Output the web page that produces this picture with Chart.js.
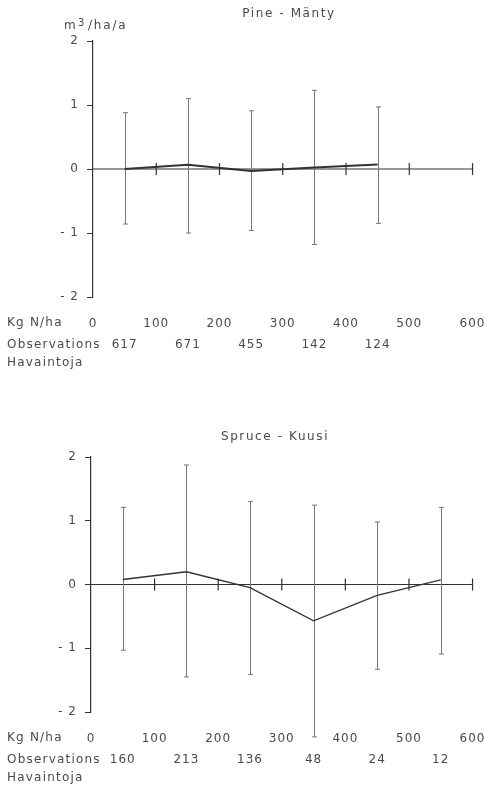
<!DOCTYPE html>
<html>
<head>
<meta charset="utf-8">
<script src="https://cdn.jsdelivr.net/npm/chart.js@4"></script>
<style>
  body { margin: 0; background: #fff; }
  #wrap { position: relative; width: 484px; height: 789px; }
  canvas { position: absolute; left: 0; }
</style>
</head>
<body>
<div id="wrap">
  <canvas id="pine" width="484" height="400" style="top:0"></canvas>
  <canvas id="spruce" width="484" height="389" style="top:400px"></canvas>
</div>
<script>
// x axis: kg N/ha
const xTicks = [0, 100, 200, 300, 400, 500, 600];
const zeroTicks = [100, 200, 300, 400, 500, 600];

// Pine - Mänty
const pineX = [50, 150, 250, 350, 450];
const pineMean = [0, 0.065, -0.03, 0.025, 0.07];
const pineUpper = [0.88, 1.10, 0.91, 1.23, 0.97];
const pineLower = [-0.86, -1.00, -0.96, -1.18, -0.85];
const pineObs = ['617', '671', '455', '142', '124'];

// Spruce - Kuusi
const spruceX = [50, 150, 250, 350, 450, 550];
const spruceMean = [0.078, 0.20, -0.05, -0.57, -0.17, 0.073];
const spruceUpper = [1.21, 1.875, 1.30, 1.245, 0.98, 1.21];
const spruceLower = [-1.03, -1.45, -1.41, -2.39, -1.33, -1.09];
const spruceObs = ['160', '213', '136', '48', '24', '12'];

const FONT = '"DejaVu Sans", sans-serif';
const TEXT = '#4a4a4a';
const INK = '#333';

function spacing(ctx, px) {
  if ('letterSpacing' in ctx) ctx.letterSpacing = px + 'px';
}

function panelPlugin(p) {
  return {
    id: 'panel',
    beforeDraw(chart) {
      // the figure's lettering is widely tracked; also applies to the tick labels
      spacing(chart.ctx, 1);
    },
    beforeDatasetsDraw(chart) {
      const { ctx, scales: { x, y } } = chart;
      ctx.save();
      // zero line doubles as the x axis
      const y0 = y.getPixelForValue(0);
      ctx.strokeStyle = INK;
      ctx.lineWidth = 1.2;
      ctx.beginPath();
      ctx.moveTo(x.getPixelForValue(0), y0);
      ctx.lineTo(x.getPixelForValue(600), y0);
      zeroTicks.forEach(v => {
        const px = x.getPixelForValue(v);
        ctx.moveTo(px, y0 - 6);
        ctx.lineTo(px, y0 + 6);
      });
      ctx.stroke();
      // error bars
      ctx.strokeStyle = '#777';
      ctx.lineWidth = 1;
      ctx.beginPath();
      p.xs.forEach((v, i) => {
        const px = Math.round(x.getPixelForValue(v)) + 0.5;
        const top = y.getPixelForValue(p.upper[i]);
        const bot = y.getPixelForValue(p.lower[i]);
        ctx.moveTo(px, top); ctx.lineTo(px, bot);
        ctx.moveTo(px - 2.5, top); ctx.lineTo(px + 2.5, top);
        ctx.moveTo(px - 2.5, bot); ctx.lineTo(px + 2.5, bot);
      });
      ctx.stroke();
      ctx.restore();
    },
    afterDraw(chart) {
      const { ctx, chartArea, scales: { x } } = chart;
      ctx.save();
      ctx.fillStyle = TEXT;
      ctx.textBaseline = 'middle';
      // title
      ctx.font = '12px ' + FONT;
      spacing(ctx, 1.6);
      ctx.textAlign = 'center';
      ctx.fillText(p.title, p.titleX, chartArea.top - p.titleGap);
      spacing(ctx, 1.8);
      // unit label
      if (p.unit) {
        ctx.textAlign = 'left';
        ctx.fillText('m', 64, chartArea.top - 15);
        ctx.font = '10px ' + FONT;
        ctx.fillText('3', 78, chartArea.top - 18);
        ctx.font = '12px ' + FONT;
        ctx.fillText('/ha/a', 88, chartArea.top - 15);
      }
      // rows under the plot
      const b = chartArea.bottom;
      ctx.textAlign = 'left';
      spacing(ctx, 1.2);
      ctx.fillText('Kg N/ha', 7, b + 26);
      ctx.fillText('Observations', 7, b + 48);
      ctx.fillText('Havaintoja', 7, b + 66);
      ctx.textAlign = 'center';
      spacing(ctx, 1);
      p.obs.forEach((n, i) => ctx.fillText(n, x.getPixelForValue(p.xs[i]), b + 48));
      ctx.restore();
    }
  };
}

function makeChart(id, p) {
  return new Chart(document.getElementById(id), {
    type: 'line',
    data: {
      datasets: [{
        data: p.xs.map((v, i) => ({ x: v, y: p.mean[i] })),
        borderColor: INK,
        borderWidth: p.lineWidth,
        pointRadius: 0,
        tension: 0,
        clip: false
      }]
    },
    options: {
      responsive: false,
      animation: false,
      events: [],
      layout: { padding: { top: p.top, right: p.right, left: 0, bottom: 0 } },
      plugins: { legend: { display: false }, tooltip: { enabled: false } },
      scales: {
        x: {
          type: 'linear', min: 0, max: 600,
          afterFit: s => { s.height = p.xHeight; },
          afterBuildTicks: s => { s.ticks = xTicks.map(v => ({ value: v })); },
          // invisible tick length pushes the labels down without widening side padding
          grid: { display: false, drawTicks: true, tickLength: 20 },
          border: { display: false },
          ticks: { padding: 0, color: TEXT, font: { family: FONT, size: 12 }, maxRotation: 0, autoSkip: false }
        },
        y: {
          min: -2, max: 2,
          afterFit: s => { s.width = p.yWidth; },
          ticks: {
            stepSize: 1, padding: 8, color: TEXT, font: { family: FONT, size: 12 },
            callback: v => v < 0 ? '- ' + Math.abs(v) : String(v)
          },
          grid: { drawOnChartArea: false, drawTicks: true, tickLength: 6, color: INK, lineWidth: 1 },
          border: { display: true, color: INK, width: 1.2 }
        }
      }
    },
    plugins: [panelPlugin(p)]
  });
}

makeChart('pine', {
  xs: pineX, mean: pineMean, upper: pineUpper, lower: pineLower, obs: pineObs,
  title: 'Pine - Mänty', titleX: 289, titleGap: 27, unit: true,
  top: 41, right: 0, yWidth: 93, xHeight: 103, lineWidth: 2
});

makeChart('spruce', {
  xs: spruceX, mean: spruceMean, upper: spruceUpper, lower: spruceLower, obs: spruceObs,
  title: 'Spruce - Kuusi', titleX: 275, titleGap: 20, unit: false,
  top: 57, right: 1, yWidth: 91, xHeight: 77, lineWidth: 1.4
});
</script>
</body>
</html>
